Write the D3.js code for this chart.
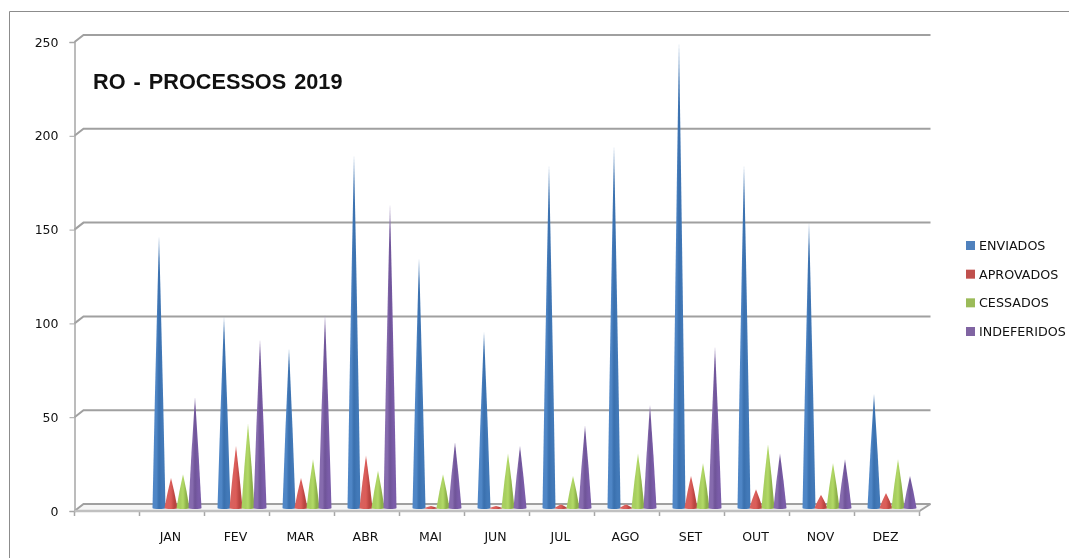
<!DOCTYPE html>
<html>
<head>
<meta charset="utf-8">
<script src="https://cdn.jsdelivr.net/npm/d3@7"></script>
<style>
  html, body { margin: 0; padding: 0; background: #fff; overflow: hidden; }
  svg { display: block; }
  .soft { filter: blur(0.35px); }
  .tick-label { font-family: "DejaVu Sans", sans-serif; font-size: 12.5px; fill: #111; }
  .legend-label { font-family: "DejaVu Sans", sans-serif; font-size: 12.7px; fill: #111; }
  .title { font-family: "Liberation Sans", Arial, sans-serif; font-size: 21.7px; font-weight: bold; fill: #111; word-spacing: 2px; }
</style>
</head>
<body>
<div id="chart"></div>
<script>
const months = ["", "JAN", "FEV", "MAR", "ABR", "MAI", "JUN", "JUL", "AGO", "SET", "OUT", "NOV", "DEZ"];
const seriesNames = ["ENVIADOS", "APROVADOS", "CESSADOS", "INDEFERIDOS"];
const enviados = [null, 145, 102, 85, 188, 133, 94, 183, 193, 248, 183, 152, 61];
const aprovados = [null, 16, 33, 16, 28, 1, 1, 2, 2, 17, 10, 7, 8];
const cessados = [null, 18, 45, 26, 20, 18, 29, 17, 29, 24, 34, 24, 26];
const indeferidos = [null, 59, 90, 103, 162, 35, 33, 44, 55, 86, 29, 26, 17];
const yTicks = [0, 50, 100, 150, 200, 250];

const allSeries = [enviados, aprovados, cessados, indeferidos];
const baseColors = ["#4f81bd", "#c0504d", "#9bbb59", "#8064a2"];
const leftColors = ["#4f86c6", "#d9605c", "#a8cf60", "#866bae"];
const midColors = ["#3a70ae", "#dc5c58", "#b2d966", "#6f5498"];
const rightColors = ["#4279b8", "#b94541", "#8eb24a", "#7a5ca8"];

const width = 1069, height = 558;
const depthX = 9, depthY = -7; // offset of the back wall

const root = d3.select("#chart").append("svg")
  .attr("width", width).attr("height", height);

// outer frame, only top and left show in the picture
root.append("path")
  .attr("d", `M9.5,${height}V11.5H${width}`)
  .attr("fill", "none").attr("stroke", "#8c8c8c").attr("stroke-width", 1);

const svg = root.append("g").attr("class", "soft");

const x = d3.scaleBand().domain(months).range([74.5, 919.5]);
const y = d3.scaleLinear().domain([0, 250]).range([511, 42]);
const seriesPos = d3.scaleBand().domain(d3.range(4)).range([-19, 29]);

// floor
svg.append("path")
  .attr("d", `M${x.range()[0]},${y(0)}L${x.range()[0] + depthX},${y(0) + depthY}H${x.range()[1] + depthX + 2}L${x.range()[1]},${y(0)}Z`)
  .attr("fill", "#f6f6f6").attr("stroke", "none");

// gridlines going around the corner
svg.append("g").selectAll("path").data(yTicks).enter().append("path")
  .attr("d", (d) => `M${x.range()[0]},${y(d)}L${x.range()[0] + depthX},${y(d) + depthY}H${x.range()[1] + depthX + 2}`)
  .attr("fill", "none").attr("stroke", "#a0a0a0").attr("stroke-width", 2);

svg.append("path")
  .attr("d", `M${x.range()[1]},${y(0)}L${x.range()[1] + depthX + 2},${y(0) + depthY}`)
  .attr("fill", "none").attr("stroke", "#a0a0a0").attr("stroke-width", 2);

// axes
const yAxis = d3.axisLeft(y).tickValues(yTicks).tickSize(5).tickPadding(11);
const yG = svg.append("g").attr("transform", `translate(${x.range()[0]},0)`).call(yAxis);
yG.selectAll("text").attr("class", "tick-label").attr("fill", null);

const xEdges = months.map((m) => x(m)).concat(x.range()[1]);
svg.append("g").selectAll("line").data(xEdges).enter().append("line")
  .attr("x1", (d) => d).attr("x2", (d) => d)
  .attr("y1", y(0)).attr("y2", y(0) + 5)
  .attr("stroke", "#a6a6a6").attr("stroke-width", 1.5);

yG.selectAll("path.domain, line").attr("stroke", "#a6a6a6");
yG.select("path.domain").attr("stroke-width", 1.5);
svg.append("line")
  .attr("x1", x.range()[0]).attr("x2", x.range()[1])
  .attr("y1", y(0)).attr("y2", y(0))
  .attr("stroke", "#c0c0c0").attr("stroke-width", 2.5);

svg.append("g").selectAll("text").data(months.slice(1)).enter().append("text")
  .attr("class", "tick-label")
  .attr("x", (d) => x(d) + x.bandwidth() / 2 - 1.5)
  .attr("y", 541)
  .attr("text-anchor", "middle")
  .text((d) => d);

// cone gradients
const defs = svg.append("defs");
seriesNames.forEach((name, i) => {
  const g = defs.append("linearGradient").attr("id", "cone" + i);
  g.append("stop").attr("offset", "0%").attr("stop-color", leftColors[i]);
  g.append("stop").attr("offset", "30%").attr("stop-color", leftColors[i]);
  g.append("stop").attr("offset", "50%").attr("stop-color", midColors[i]);
  g.append("stop").attr("offset", "75%").attr("stop-color", rightColors[i]);
  g.append("stop").attr("offset", "100%").attr("stop-color", rightColors[i]);
});
// pale tips
const fade = defs.append("linearGradient").attr("id", "tip-fade")
  .attr("x1", 0).attr("x2", 0).attr("y1", 0).attr("y2", 1);
fade.append("stop").attr("offset", "0%").attr("stop-color", "#fff").attr("stop-opacity", 0.8);
fade.append("stop").attr("offset", "8%").attr("stop-color", "#fff").attr("stop-opacity", 0);

// cones, sides bow out a little as in the picture
const coneHalf = 6.5;
const conePath = (s, d) => {
  const cx = x(d.month) + x.bandwidth() / 2 + seriesPos(s) + seriesPos.bandwidth() / 2;
  const by = y(0) - 3;
  const tip = by - (y(0) - y(d.v));
  const my = (by + tip) / 2;
  return `M${cx - coneHalf},${by}Q${cx - coneHalf * 0.58},${my} ${cx},${tip}Q${cx + coneHalf * 0.58},${my} ${cx + coneHalf},${by}A${coneHalf},1 0 0 1 ${cx - coneHalf},${by}Z`;
};
allSeries.forEach((values, s) => {
  const rows = values.map((v, i) => ({ month: months[i], v })).filter((d) => d.v !== null);
  const g = svg.append("g");
  g.selectAll("path.cone").data(rows).enter().append("path")
    .attr("class", "cone")
    .attr("d", (d) => conePath(s, d))
    .attr("fill", `url(#cone${s})`);
  g.selectAll("path.tip").data(rows).enter().append("path")
    .attr("class", "tip")
    .attr("d", (d) => conePath(s, d))
    .attr("fill", "url(#tip-fade)");
});

// title
svg.append("text").attr("class", "title").attr("x", 93).attr("y", 89)
  .text("RO - PROCESSOS 2019");

// legend
const legendY = d3.scalePoint().domain(seriesNames).range([245, 331]);
const legend = svg.append("g");
legend.selectAll("rect").data(seriesNames).enter().append("rect")
  .attr("x", 966).attr("y", (d) => legendY(d) - 4)
  .attr("width", 9).attr("height", 9)
  .attr("fill", (d, i) => baseColors[i]);
legend.selectAll("text").data(seriesNames).enter().append("text")
  .attr("class", "legend-label")
  .attr("x", 979).attr("y", (d) => legendY(d) + 5)
  .text((d) => d);
</script>
</body>
</html>
